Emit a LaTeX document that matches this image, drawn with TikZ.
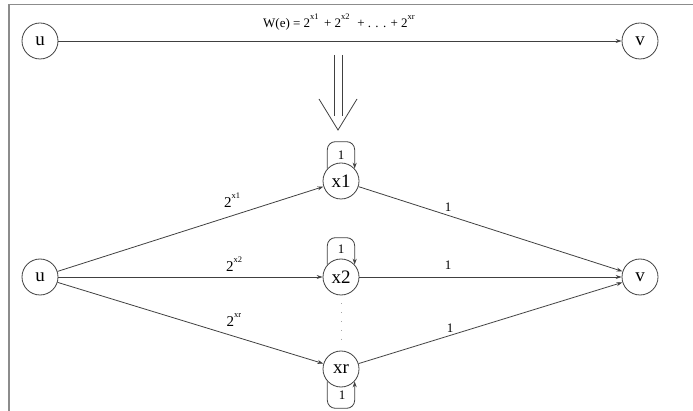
\documentclass[tikz,border=0pt]{standalone}
\usepackage{fontspec}
\setmainfont{Liberation Serif}
\usetikzlibrary{arrows.meta,calc}
\newcommand{\supx}[1]{\raisebox{1.3ex}{\fontsize{8.5}{8.5}\selectfont #1}}
\begin{document}
\begin{tikzpicture}[x=1pt,y=-1pt,
  vtx/.style={circle,draw=black!75,line width=0.8pt,minimum size=36pt,inner sep=0pt,font=\fontsize{19}{19}\selectfont},
  edge/.style={draw=black!75,line width=0.8pt,-{Stealth[length=6pt,width=4pt]}},
  loopedge/.style={draw=black!75,line width=0.8pt,rounded corners=8pt,-{Stealth[length=6pt,width=4pt]}},
  lab/.style={font=\fontsize{13}{13}\selectfont,inner sep=0pt},
  wlab/.style={font=\fontsize{15}{15}\selectfont,inner sep=0pt},
  frame/.style={draw=black!45,line width=1.6pt}]
\useasboundingbox (0,0) rectangle (693,411);
% frame
\draw[frame] (693,4.5) -- (9,4.5) -- (9,411);
% top graph
\node[vtx] (u1) at (40,41) {u};
\node[vtx] (v1) at (640,41) {v};
\draw[edge] (u1) -- (v1);
\node[lab] (wt) at (339,22) {W(e) = 2\supx{x1}\, + 2\supx{x2}\,\, + . . . + 2\supx{xr}};
% double arrow
\draw[draw=black!75,line width=0.8pt] (334,55) -- (334,116);
\draw[draw=black!75,line width=0.8pt] (342,55) -- (342,116);
\draw[draw=black!75,line width=0.8pt] (319,99) -- (338,130) -- (357,99);
% bottom graph
\node[vtx] (u2) at (40,277) {u};
\node[vtx] (v2) at (640,277) {v};
\node[vtx] (x1) at (341,181) {x1};
\node[vtx] (x2) at (341,277) {x2};
\node[vtx] (xr) at (341,369) {xr};
\draw[edge] (u2) -- (x1);
\draw[edge] (u2) -- (x2);
\draw[edge] (u2) -- (xr);
\draw[edge] (x1) -- (v2);
\draw[edge] (x2) -- (v2);
\draw[edge] (xr) -- (v2);
\draw[loopedge] (x1.138) -- ++(0pt,27pt) -| (x1.42);
\draw[loopedge] (x2.138) -- ++(0pt,27pt) -| (x2.42);
\draw[loopedge] (xr.222) -- ++(0pt,-27pt) -| (xr.-42);
\node[lab] (l1) at (341,155) {1};
\node[lab] (l2) at (341,249) {1};
\node[lab] (l3) at (342,395) {1};
\draw[draw=black!35,line width=0.8pt,dash pattern=on 0.8pt off 8pt] ([yshift=-8pt]x2.south) -- ([yshift=11pt]xr.north);
% edge labels
\node[wlab] (a1) at (232,200) {2\supx{x1}};
\node[wlab] (a2) at (234,264) {2\supx{x2}};
\node[wlab] (a3) at (234,320) {2\supx{xr}};
\node[lab] (b1) at (448,207) {1};
\node[lab] (b2) at (448,265) {1};
\node[lab] (b3) at (450,328) {1};
\end{tikzpicture}
\end{document}
